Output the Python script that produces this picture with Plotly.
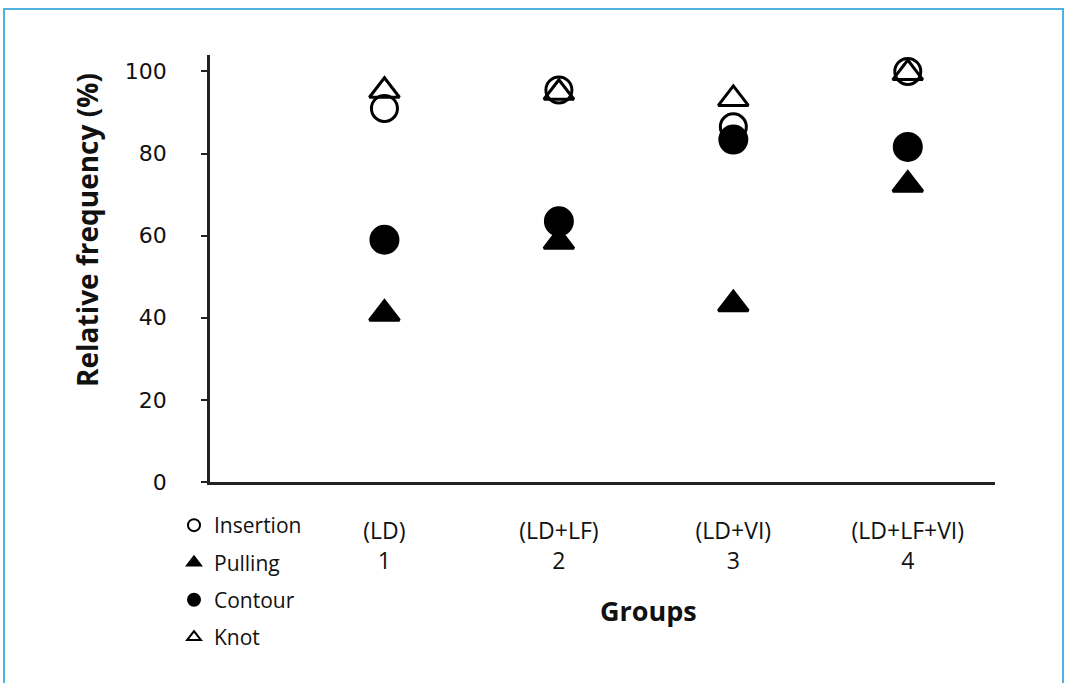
import plotly.graph_objects as go

groups = [1, 2, 3, 4]
group_labels = ["(LD)<br>1", "(LD+LF)<br>2", "(LD+VI)<br>3", "(LD+LF+VI)<br>4"]

insertion = [91, 95.5, 86.5, 100]
pulling = [41, 58.5, 43.3, 72.4]
contour = [59, 63.5, 83.4, 81.6]
knot = [95.3, 94.8, 93.3, 99.6]

y_ticks = [0, 20, 40, 60, 80, 100]

series = [
    ("Insertion", insertion, "circle-open", 26),
    ("Pulling", pulling, "triangle-up", 26),
    ("Contour", contour, "circle", 27),
    ("Knot", knot, "triangle-up-open", 26),
]

fig = go.Figure()
for name, vals, sym, sz in series:
    fig.add_trace(go.Scatter(
        x=groups, y=vals, mode="markers", name=name, legendgroup=name,
        marker=dict(symbol=sym, size=sz, color="black",
                    line=dict(width=3, color="black")),
    ))

W, H = 1065, 683
L, R, T, B = 210, 70, 55, 201
pw, ph = W - L - R, H - T - B

def px(x):
    return (x - L) / pw

def py(y):
    return (H - B - y) / ph

fig.update_layout(
    width=W, height=H,
    margin=dict(l=L, r=R, t=T, b=B),
    paper_bgcolor="white", plot_bgcolor="white",
    font=dict(family="Open Sans", color="#111"),
    showlegend=True,
    legend=dict(
        x=px(174), y=py(505), xanchor="left", yanchor="top",
        font=dict(family="Open Sans", size=21, color="#111"),
        itemsizing="constant", tracegroupgap=7,
        bgcolor="rgba(0,0,0,0)", borderwidth=0,
    ),
    xaxis=dict(
        range=[0, 4.5], tickvals=groups, ticktext=group_labels,
        showline=True, linecolor="#222", linewidth=2.5,
        ticks="", showgrid=False, zeroline=False,
        tickfont=dict(family="Open Sans", size=23, color="#111"),
        ticklabelstandoff=27,
    ),
    yaxis=dict(
        range=[0, 104], tickvals=y_ticks,
        showline=True, linecolor="#222", linewidth=2.5,
        ticks="outside", ticklen=6, tickwidth=2, tickcolor="#222",
        showgrid=False, zeroline=False,
        tickfont=dict(family="DejaVu Sans", size=22, color="#111"),
        ticklabelstandoff=30,
    ),
    annotations=[
        dict(text="<b>Relative frequency (%)</b>", x=px(87), y=py(230),
             xref="paper", yref="paper", textangle=-90, showarrow=False,
             xanchor="center", yanchor="middle",
             font=dict(family="Open Sans", size=28, color="#111")),
        dict(text="<b>Groups</b>", x=px(648), y=py(610),
             xref="paper", yref="paper", showarrow=False,
             xanchor="center", yanchor="middle",
             font=dict(family="Open Sans", size=27, color="#111")),
    ],
    shapes=[
        dict(type="rect", xref="paper", yref="paper",
             x0=px(4), x1=px(1063), y0=py(690), y1=py(9),
             line=dict(color="#4fb3e0", width=2), fillcolor="rgba(0,0,0,0)",
             layer="below"),
    ],
)

fig.write_html("out.html", config={"displayModeBar": False},
               post_script="document.body.style.margin='0';")
